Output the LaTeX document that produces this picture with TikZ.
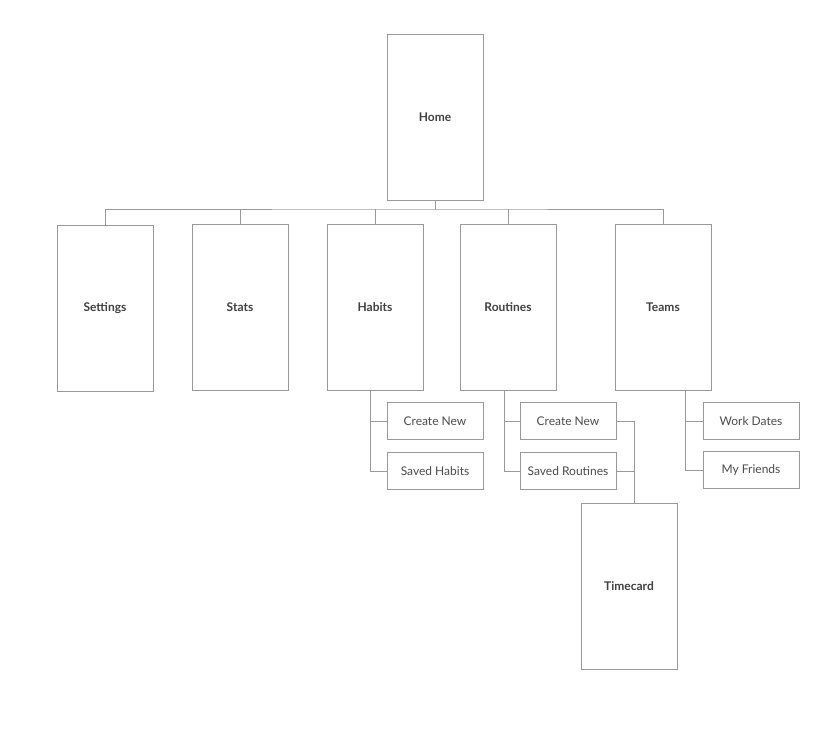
\documentclass[tikz,border=0pt]{standalone}
\usepackage{fontspec}
\setmainfont{Lato}
\begin{document}
\begin{tikzpicture}[x=0.75pt,y=-0.75pt,
  ln/.style={draw=black!40,line width=0.5pt},
  big/.style={ln,fill=white,minimum width=96*0.75pt,minimum height=166*0.75pt,inner sep=0pt,text=black!75,font=\bfseries\small},
  small/.style={ln,fill=white,minimum width=96*0.75pt,minimum height=37*0.75pt,inner sep=0pt,text=black!70,font=\small}]
\useasboundingbox (0,0) rectangle (836,746);
\node[big] (home) at (435,117) {Home};
\node[big] (settings) at (105,308) {Settings};
\node[big] (stats) at (240,307) {Stats};
\node[big] (habits) at (375,307) {Habits};
\node[big] (routines) at (508,307) {Routines};
\node[big] (teams) at (663,307) {Teams};
\node[big] (timecard) at (629,586) {Timecard};
\node[small] (hc) at (435,421) {Create New};
\node[small] (hs) at (435,471) {Saved Habits};
\node[small] (rc) at (568,421) {Create New};
\node[small] (rs) at (568,471) {Saved Routines};
\node[small] (tw) at (751,421) {Work Dates};
\node[small] (tf) at (751,470) {My Friends};
\coordinate (bus) at (435,209);
\draw[ln] (home.south) -- (bus);
\draw[ln] (settings.north) |- (bus) -| (teams.north);
\foreach \n in {stats,habits,routines} \draw[ln] (\n.north) -- (\n.north |- bus);
\draw[ln] (370,390) |- (hc.west); \draw[ln] (370,421) |- (hs.west);
\draw[ln] (504,390) |- (rc.west); \draw[ln] (504,421) |- (rs.west);
\draw[ln] (685,390) |- (tw.west); \draw[ln] (685,421) |- (tf.west);
\coordinate (tc) at (634,421);
\draw[ln] (rc.east) -- (tc) -- (timecard.north -| tc);
\draw[ln] (rs.east) -- (rs.east -| tc);
\end{tikzpicture}
\end{document}
